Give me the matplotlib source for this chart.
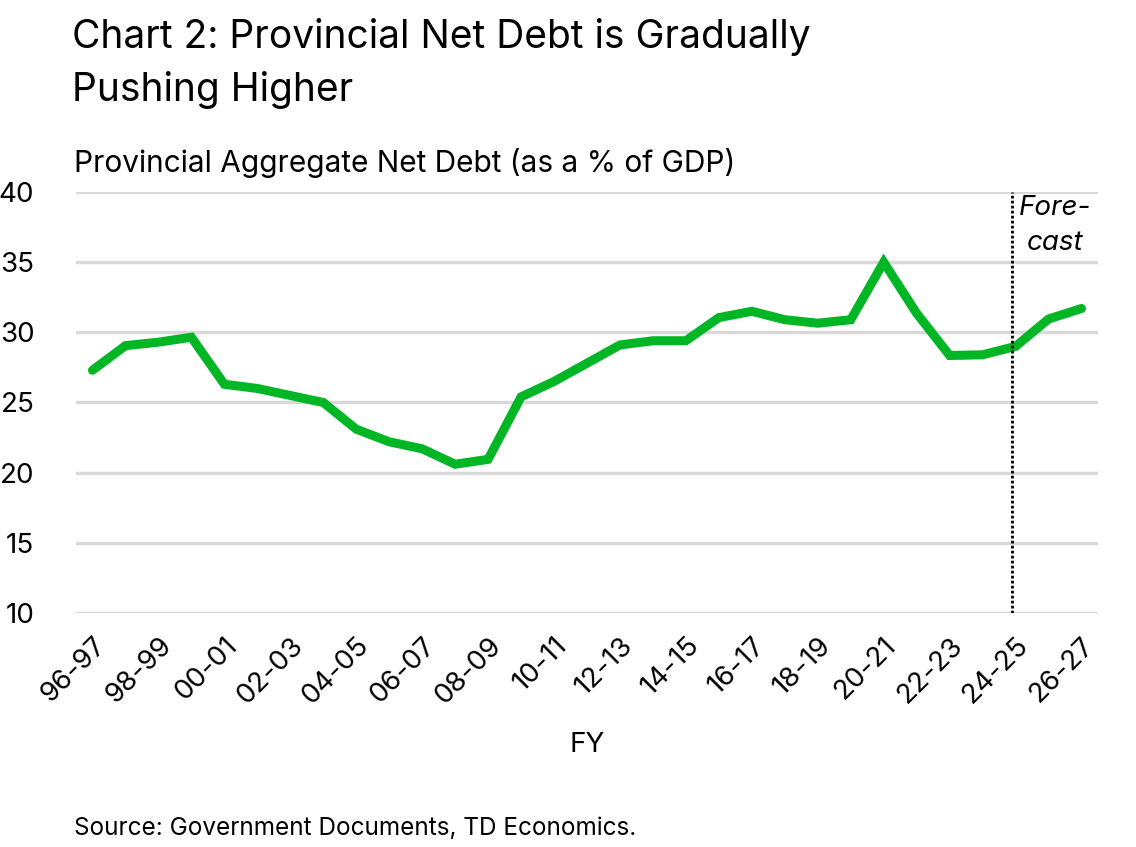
import numpy as np
import matplotlib
matplotlib.use("Agg")
import matplotlib.pyplot as plt

plt.rcParams['font.family'] = ['Inter', 'DejaVu Sans']

# fiscal years 96-97 .. 26-27
years = [f"{(96 + i) % 100:02d}-{(97 + i) % 100:02d}" for i in range(31)]
net_debt = [27.3, 29.05, 29.3, 29.65, 26.3, 26.0, 25.5, 25.0, 23.1, 22.2,
            21.7, 20.6, 20.95, 25.4, 26.5, 27.8, 29.1, 29.4, 29.4, 31.05,
            31.5, 30.9, 30.65, 30.9, 35.0, 31.35, 28.35, 28.4, 29.0, 30.95,
            31.7]
forecast_start = 27.9

fig = plt.figure(figsize=(11.36, 8.47), dpi=100)
ax = fig.add_axes([76 / 1136, 1 - 613 / 847, (1098 - 76) / 1136, (613 - 192) / 847])

x = np.arange(len(years))
ax.plot(x, net_debt, color='#00b624', lw=6.5, solid_capstyle='round',
        solid_joinstyle='miter', zorder=3)
ax.axvline(forecast_start, color='black', lw=2, ls=(0, (1, 0.8)), zorder=4)
ax.text(forecast_start + 1.3, 39.8, "Fore-\ncast", style='italic', fontsize=20,
        ha='center', va='top', linespacing=1.45)

ax.set_xlim(-0.5, 30.5)
ax.set_ylim(10, 40)
ax.set_yticks(range(10, 41, 5))
ax.set_xticks(x[::2])
ax.set_xticklabels(years[::2], rotation=45, ha='right', rotation_mode='anchor')
ax.tick_params(axis='y', length=0, pad=30, labelsize=20)
ax.tick_params(axis='x', length=0, pad=14, labelsize=20)
ax.grid(axis='y', color='#d9d9d9', lw=2.5)
ax.set_axisbelow(True)
for s in ax.spines.values():
    s.set_visible(False)

ax.set_xlabel("FY", fontsize=20, labelpad=16)

fig.text(72 / 1136, 1 - 18 / 847, "Chart 2: Provincial Net Debt is Gradually\nPushing Higher",
         fontsize=28, va='top', ha='left', linespacing=1.5)
fig.text(74 / 1136, 1 - 172 / 847, "Provincial Aggregate Net Debt (as a % of GDP)",
         fontsize=21.5, va='baseline', ha='left')
fig.text(74 / 1136, 1 - 835 / 847, "Source: Government Documents, TD Economics.",
         fontsize=17.5, va='baseline', ha='left')

fig.savefig("out.png", dpi=100)
